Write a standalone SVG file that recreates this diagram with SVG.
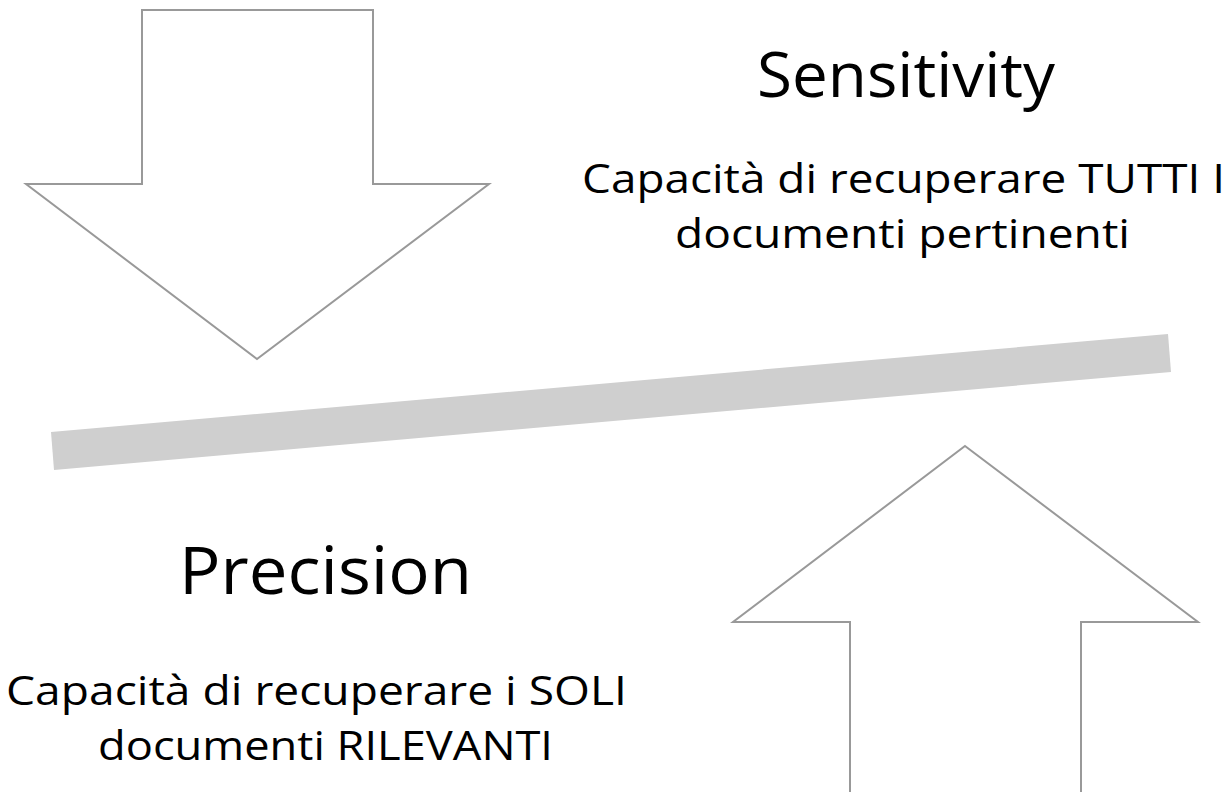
<svg xmlns="http://www.w3.org/2000/svg" width="1231" height="792" viewBox="0 0 1231 792">
<style>
.arrow{fill:#ffffff;stroke:#999999;stroke-width:2;stroke-linejoin:miter}
.bar{fill:#cfcfcf}
.t{font-family:"Open Sans","Lato","Liberation Sans",sans-serif;fill:#000000}
.title{font-size:63px}
.sub{font-size:41px}
</style>
<rect width="1231" height="792" fill="#ffffff"/>
<g id="arrow-down">
<polygon class="arrow" points="142,10 373,10 373,184 489,184 257,359 26,184 142,184"/>
</g>
<g id="arrow-up">
<polygon class="arrow" points="965,446 1198,622 1081,622 1081,800 850,800 850,622 733,622"/>
</g>
<g id="connectors">
<polygon class="bar" points="51,432 1168,334 1171,372 54,470"/>
</g>
<g id="sensitivity">
<text class="t title" x="757" y="97" textLength="298" lengthAdjust="spacingAndGlyphs">Sensitivity</text>
<text class="t sub" x="582" y="193" textLength="643" lengthAdjust="spacingAndGlyphs">Capacità di recuperare TUTTI I</text>
<text class="t sub" x="675" y="248" textLength="455" lengthAdjust="spacingAndGlyphs">documenti pertinenti</text>
</g>
<g id="precision">
<text class="t title" x="179" y="594" textLength="293" lengthAdjust="spacingAndGlyphs" style="font-size:66px">Precision</text>
<text class="t sub" x="6" y="705" textLength="621" lengthAdjust="spacingAndGlyphs">Capacità di recuperare i SOLI</text>
<text class="t sub" x="98" y="760" textLength="455" lengthAdjust="spacingAndGlyphs">documenti RILEVANTI</text>
</g>
</svg>
